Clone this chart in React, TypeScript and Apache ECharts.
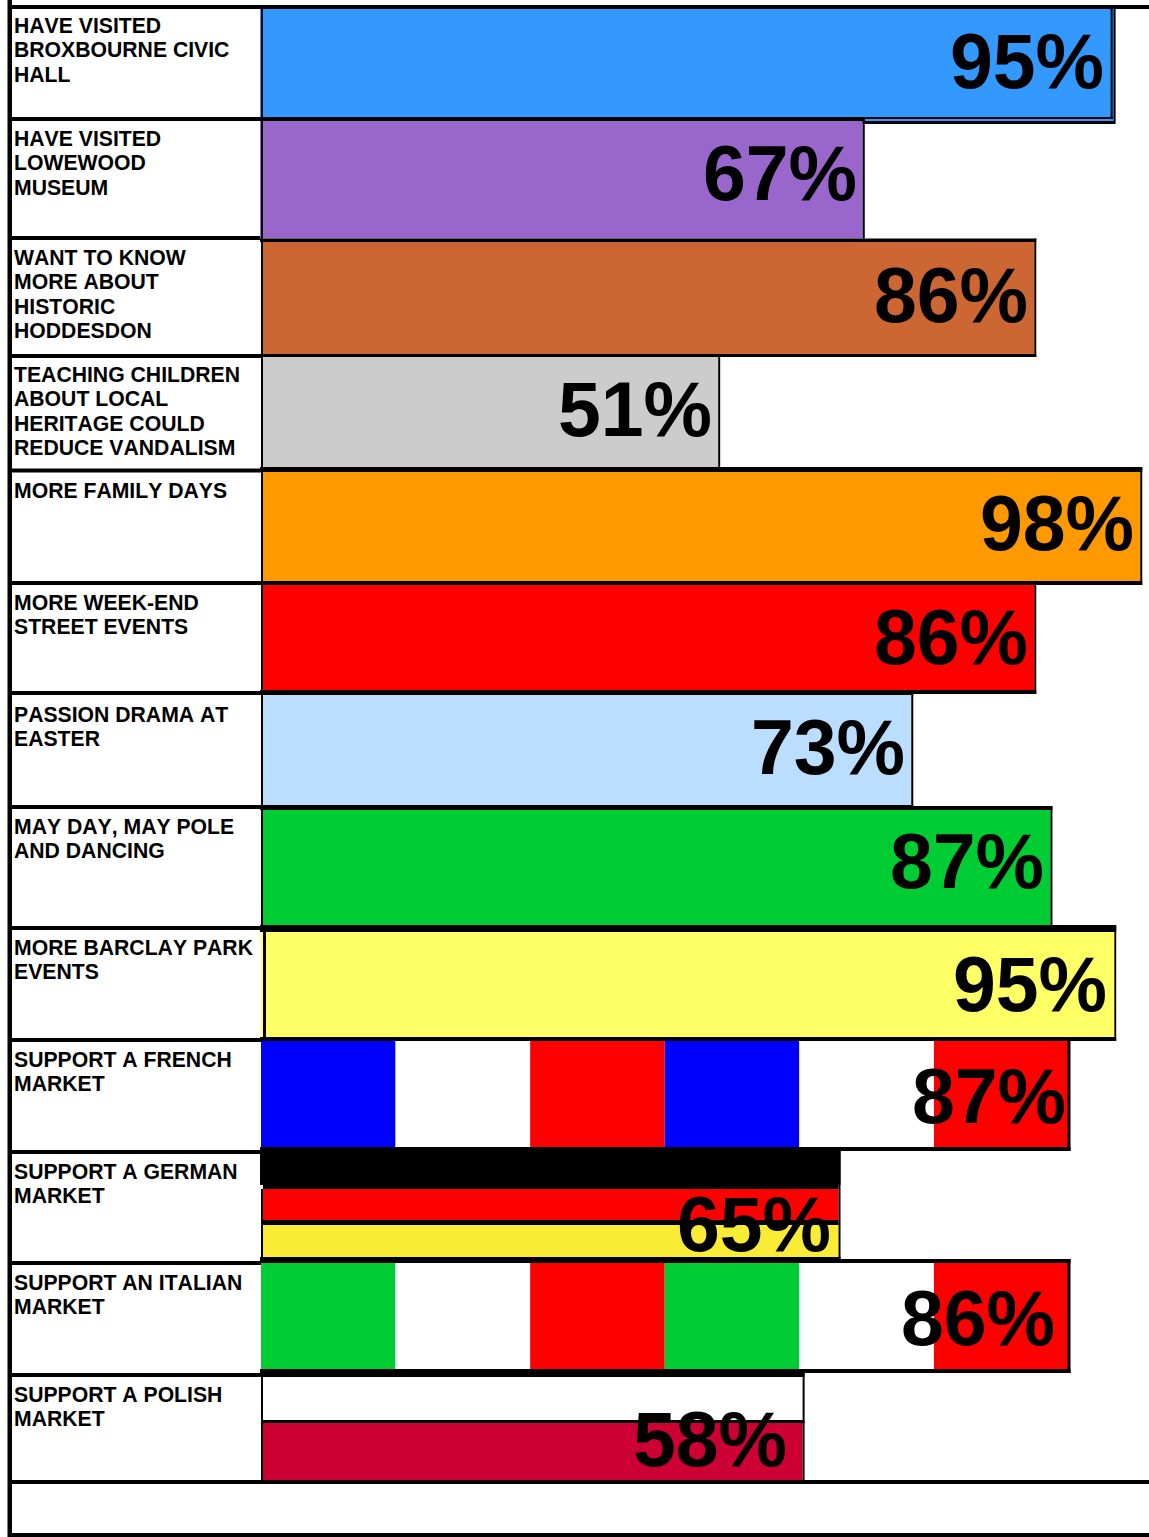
import React, { useEffect, useRef } from "react";
import * as echarts from "echarts";

const categories = [
  "HAVE VISITED\nBROXBOURNE CIVIC\nHALL",
  "HAVE VISITED\nLOWEWOOD\nMUSEUM",
  "WANT TO KNOW\nMORE ABOUT\nHISTORIC\nHODDESDON",
  "TEACHING CHILDREN\nABOUT LOCAL\nHERITAGE COULD\nREDUCE VANDALISM",
  "MORE FAMILY DAYS",
  "MORE WEEK-END\nSTREET EVENTS",
  "PASSION DRAMA AT\nEASTER",
  "MAY DAY, MAY POLE\nAND DANCING",
  "MORE BARCLAY PARK\nEVENTS",
  "SUPPORT A FRENCH\nMARKET",
  "SUPPORT A GERMAN\nMARKET",
  "SUPPORT AN ITALIAN\nMARKET",
  "SUPPORT A POLISH\nMARKET",
];
const percentLabels = [95, 67, 86, 51, 98, 86, 73, 87, 95, 87, 65, 86, 58];
// Bar lengths as drawn in the picture, on the same percent scale
const barLengths = [94.5, 66.9, 86, 50.8, 97.8, 86, 72.3, 87.8, 94.9, 89.7, 64.2, 89.7, 60.2];

// Colours
const solidColors = ["#3399FF", "#9966CC", "#CC6633", "#CCCCCC", "#FF9900", "#FF0000", "#BBDDFF", "#00CC33", "#FFFF66"];
const frenchStripes = ["#0000FF", "#FFFFFF", "#FF0000", "#0000FF", "#FFFFFF", "#FF0000"];
const italianStripes = ["#00CC33", "#FFFFFF", "#FF0000", "#00CC33", "#FFFFFF", "#FF0000"];
const germanYellow = "#F9EC36";
const polishRed = "#CC0033";

// Layout (pixels)
const SCALE = 8.98;
const AXIS_LEFT = 262;
const fillTop = [9, 121, 242, 357, 472, 585, 695, 810, 932, 1041, 1189, 1263, 1377];
const fillBottom = [117, 238.5, 354, 467, 581, 690, 805, 925, 1037, 1147, 1257, 1369, 1480];
const lineTop = [5, 117, 238.5, 354, 467, 581, 690, 806, 925, 1041, 1147, 1259, 1373];
const lineBottom = [119, 238.5, 357, 469, 585, 694, 808, 929, 1041, 1151, 1263, 1373, 1484];
const labelRight = [1104, 857, 1028, 712, 1134, 1028, 905, 1044, 1107, 1066, 831, 1055, 787];
const labelMiddle = [61, 173, 295, 409, 523, 637, 747, 861, 984, 1096, 1224, 1318, 1439];
const textTop = [13, 126, 245, 362, 478, 590, 702, 814, 935, 1047, 1159, 1270, 1382];
const separators = [117, 236, 354, 468.5, 581, 691, 805, 926, 1038, 1150, 1261, 1373];

const FONT = '"Liberation Sans", Arial, sans-serif';

function box(x: number, y: number, w: number, h: number, fill: string) {
  return { type: "rect", shape: { x, y, width: w, height: h }, style: { fill }, silent: true };
}

function renderRow(params: any, api: any) {
  const i = api.value(0);
  const right = api.coord([api.value(1), i])[0];
  const t = fillTop[i];
  const b = fillBottom[i];
  const black = "#000000";
  const kids: any[] = [];
  const isFlagV = i === 9 || i === 11;
  const left = i < 2 ? 260 : 263;

  if (i === 0) {
    // double frame of the first bar
    kids.push(box(260, 9, right + 5 - 260, 115, black));
    kids.push(box(260, 9, right + 3 - 260, 112, solidColors[0]));
  }
  if (i < 9) {
    kids.push(box(left, t, right - left, b - t, solidColors[i]));
  } else if (isFlagV) {
    const stripes = i === 9 ? frenchStripes : italianStripes;
    const w = (right + 1 - 261) / stripes.length;
    stripes.forEach((c, k) => kids.push(box(261 + k * w, t, w, b - t, c)));
  } else if (i === 10) {
    kids.push(box(260, 1147, right + 2 - 260, 38, black));
    kids.push(box(263, 1185, right - 263, 4, black));
    kids.push(box(263, 1189, right - 263, 31, "#FF0000"));
    kids.push(box(263, 1220, right - 263, 5, black));
    kids.push(box(263, 1225, right - 263, 32, germanYellow));
  } else if (i === 12) {
    kids.push(box(263, 1377, right - 263, 43, "#FFFFFF"));
    kids.push(box(263, 1420, right + 2 - 263, 3, black));
    kids.push(box(263, 1423, right - 263, 57, polishRed));
  }

  // frame lines of the bar
  const rw = right + (isFlagV ? 3 : 2);
  kids.push(box(right, lineTop[i], rw - right, lineBottom[i] - lineTop[i], black));
  if (i !== 10 && lineTop[i] < t) kids.push(box(260, lineTop[i], rw - 260, t - lineTop[i], black));
  if (lineBottom[i] > b) kids.push(box(260, b, rw - 260, lineBottom[i] - b, black));
  if (i === 8) {
    kids.push(box(261, t, 2, b - t, solidColors[8]));
    kids.push(box(263, t - 2, 3, b - t + 4, black));
    kids.push(box(266, t, right - 266, b - t, solidColors[8]));
  } else if (!isFlagV) {
    kids.push(box(261, i === 0 ? 5 : t, 2, b - (i === 0 ? 5 : t), black));
  }

  kids.push({
    type: "text",
    silent: true,
    style: {
      x: 14,
      y: textTop[i],
      text: categories[i],
      fontFamily: FONT,
      fontWeight: "bold",
      fontSize: 21.2,
      lineHeight: 24.4,
      fill: "#000000",
      align: "left",
      verticalAlign: "top",
    },
  });
  kids.push({
    type: "text",
    silent: true,
    style: {
      x: labelRight[i],
      y: labelMiddle[i],
      text: percentLabels[i] + "%",
      fontFamily: FONT,
      fontWeight: "bold",
      fontSize: 77,
      fill: "#000000",
      align: "right",
      verticalAlign: "middle",
    },
  });
  return { type: "group", children: kids };
}

export default function App() {
  const ref = useRef<HTMLDivElement>(null);
  useEffect(() => {
    document.body.style.margin = "0";
    const chart = echarts.init(ref.current!, null, { renderer: "svg" });
    chart.setOption({
      animation: false,
      backgroundColor: "#FFFFFF",
      grid: { left: AXIS_LEFT, right: 0, top: 0, bottom: 0 },
      xAxis: { type: "value", min: 0, max: (1149 - AXIS_LEFT) / SCALE, show: false },
      yAxis: { type: "category", data: categories, inverse: true, show: false },
      graphic: {
        elements: [
          { type: "rect", z: 0, shape: { x: 7.5, y: 0, width: 4.5, height: 1537 }, style: { fill: "#000" } },
          { type: "rect", z: 0, shape: { x: 8, y: 5, width: 1141, height: 4 }, style: { fill: "#000" } },
          { type: "rect", z: 0, shape: { x: 8, y: 1480, width: 1141, height: 4 }, style: { fill: "#000" } },
          { type: "rect", z: 0, shape: { x: 8, y: 1533, width: 1141, height: 4 }, style: { fill: "#000" } },
          ...separators.map((y) => ({
            type: "rect",
            z: 0,
            shape: { x: 8, y, width: 254, height: 4 },
            style: { fill: "#000" },
          })),
        ],
      },
      series: [
        {
          type: "custom",
          z: 5,
          clip: false,
          silent: true,
          coordinateSystem: "cartesian2d",
          encode: { x: 1, y: 0 },
          renderItem: renderRow,
          data: barLengths.map((v, i) => [i, v]),
        },
      ],
    });
    return () => chart.dispose();
  }, []);
  return <div ref={ref} style={{ width: 1149, height: 1537, fontKerning: "none" }} />;
}
